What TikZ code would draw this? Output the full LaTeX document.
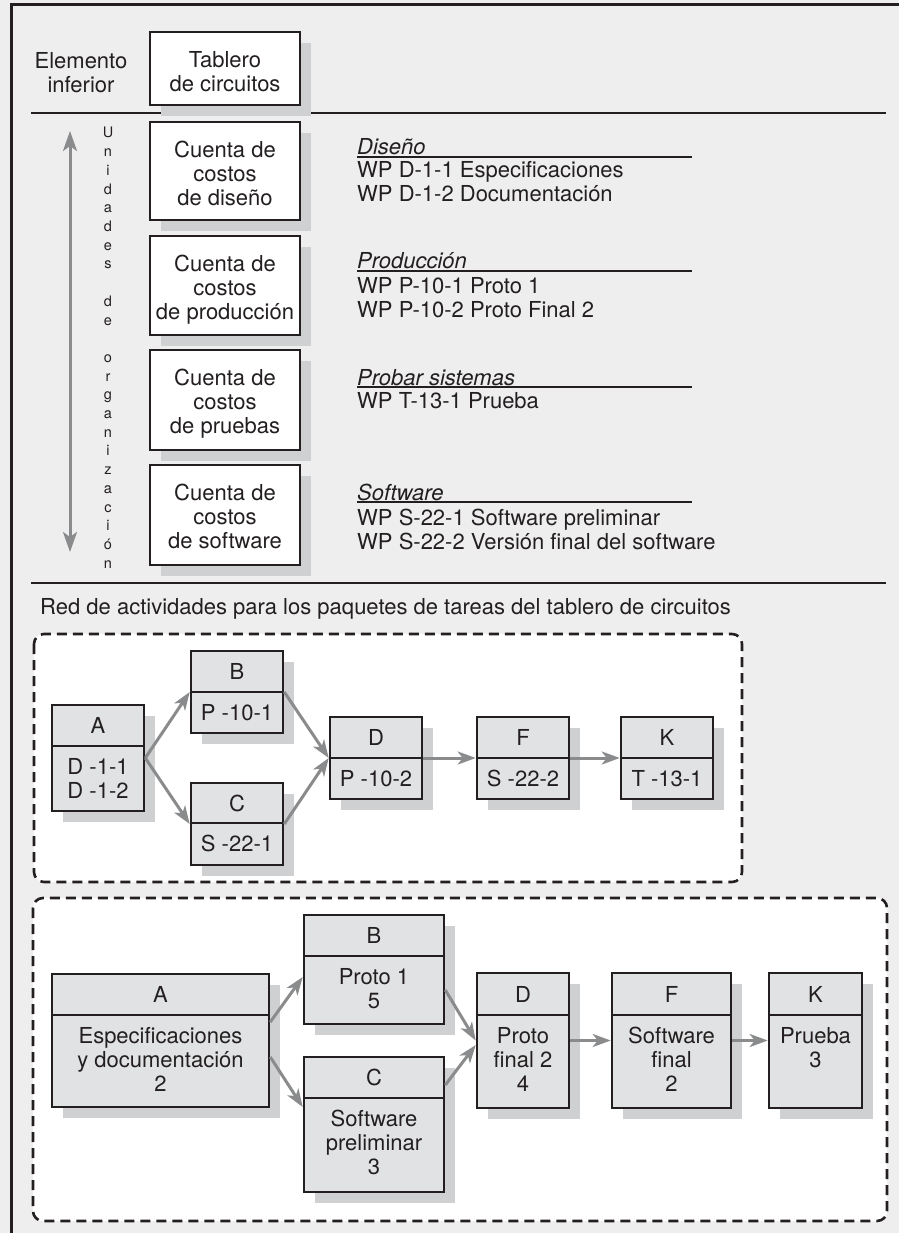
\documentclass[tikz,border=0pt]{standalone}
\usepackage{fontspec}
\setmainfont{TeX Gyre Heros}
\usetikzlibrary{arrows.meta}
\definecolor{bgc}{HTML}{EEEEEE}
\definecolor{shadowc}{HTML}{CFD0D2}
\definecolor{nodefill}{HTML}{E1E2E3}
\definecolor{arrowc}{HTML}{8A8B8C}
\definecolor{inkc}{HTML}{231F20}
\newcommand\costbox[6]{%
  \fill[shadowc] ({#2+11},{#3+11}) rectangle ({#4+11},{#5+11});
  \node[costnode, minimum width={#4-#2}, minimum height={#5-#3}] (#1) at ({(#2+#4)/2},{(#3+#5)/2}) {};
  \node[txt, anchor=north, inner sep=0pt, align=center] (#1t) at ({(#2+#4)/2},{#3+19}) {#6};
}
\newcommand\actbox[8]{%
  \fill[shadowc] ({#2+11},{#3+11}) rectangle ({#4+11},{#5+11});
  \node[actnode, minimum width={#4-#2}, minimum height={#5-#3}] (#1) at ({(#2+#4)/2},{(#3+#5)/2}) {};
  \draw[divline] ({#2},{#6}) -- ({#4},{#6});
  \node[txt] (#1h) at ({(#2+#4)/2},{(#3+#6)/2}) {#7};
  \node[txt, anchor=north, inner sep=0pt, align=center] (#1b) at ({(#2+#4)/2},{#6+12}) {#8};
}
\begin{document}
\begin{tikzpicture}[x=1pt,y=-1pt,
  txt/.style={font=\fontsize{22}{24}\selectfont, text=inkc},
  ital/.style={font=\fontsize{22}{24}\selectfont\itshape, text=inkc},
  small/.style={font=\fontsize{14.5}{16}\selectfont, text=inkc},
  frame/.style={draw=inkc, line width=3pt},
  sepline/.style={draw=inkc, line width=2.2pt},
  uline/.style={draw=inkc, line width=1.3pt},
  costnode/.style={draw=inkc, line width=2.8pt, fill=white, inner sep=0pt},
  actnode/.style={draw=inkc, line width=2.6pt, fill=nodefill, inner sep=0pt},
  divline/.style={draw=inkc, line width=2.6pt},
  conn/.style={draw=arrowc, line width=3pt, -{Stealth[length=18pt,width=13pt,inset=5pt]}},
  varrow/.style={draw=arrowc, line width=3pt, {Stealth[length=20pt,width=14pt,inset=5pt]}-{Stealth[length=20pt,width=14pt,inset=5pt]}},
  dashbox/.style={draw=inkc, line width=2.6pt, dash pattern=on 10pt off 6pt, rounded corners=10pt, fill=white}
]
\useasboundingbox (0,0) rectangle (899,1233);
\fill[bgc] (0,0) rectangle (899,1233);
% outer frame
\draw[frame] (11.5,1233) -- (11.5,4.5) -- (899,4.5);
% separators
\draw[sepline] (31,113) -- (886,113);
\draw[sepline] (31,583) -- (886,583);

% top section
\node[txt, anchor=north, inner sep=0pt, align=center] (elem) at (81,52) {Elemento\\inferior};
\costbox{tab}{150}{32}{300}{105}{Tablero\\de circuitos}
\costbox{cdis}{150}{122}{300}{220}{Cuenta de\\costos\\de diseño}
\costbox{cpro}{150}{236}{300}{335}{Cuenta de\\costos\\de producción}
\costbox{cpru}{150}{350}{300}{450}{Cuenta de\\costos\\de pruebas}
\costbox{csof}{150}{465}{300}{565}{Cuenta de\\costos\\de software}

% vertical arrow and letters
\coordinate (vtop) at (70,131);
\coordinate (vbot) at (70,552);
\draw[varrow] (vtop) -- (vbot);
\foreach \l [count=\i from 0] in {U,n,i,d,a,d,e,s,{},d,e,{},o,r,g,a,n,i,z,a,c,i,ó,n}
  \node[small, anchor=base, inner sep=0pt] (v\i) at (108,{138+\i*18.7}) {\l};

% work packages
\node[ital, anchor=base west, inner sep=0pt] (hd1) at (357,155) {Diseño};
\draw[uline] (357,157) -- (692,157);
\node[txt, anchor=base west, inner sep=0pt] (w11) at (357,178) {WP D-1-1 Especificaciones};
\node[txt, anchor=base west, inner sep=0pt] (w12) at (357,202) {WP D-1-2 Documentación};

\node[ital, anchor=base west, inner sep=0pt] (hd2) at (357,268) {Producción};
\draw[uline] (357,271) -- (692,271);
\node[txt, anchor=base west, inner sep=0pt] (w21) at (357,293) {WP P-10-1 Proto 1};
\node[txt, anchor=base west, inner sep=0pt] (w22) at (357,317) {WP P-10-2 Proto Final 2};

\node[ital, anchor=base west, inner sep=0pt] (hd3) at (357,385) {Probar sistemas};
\draw[uline] (357,387) -- (692,387);
\node[txt, anchor=base west, inner sep=0pt] (w31) at (357,408) {WP T-13-1 Prueba};

\node[ital, anchor=base west, inner sep=0pt] (hd4) at (357,500) {Software};
\draw[uline] (357,502) -- (692,502);
\node[txt, anchor=base west, inner sep=0pt] (w41) at (357,525) {WP S-22-1 Software preliminar};
\node[txt, anchor=base west, inner sep=0pt] (w42) at (357,549) {WP S-22-2 Versión final del software};

% network title
\node[txt, anchor=base west, inner sep=0pt] (title) at (40,614) {Red de actividades para los paquetes de tareas del tablero de circuitos};

% dashed boxes
\draw[dashbox] (34,634) rectangle (742,882);
\draw[dashbox] (33,898) rectangle (887,1221);

% network 1
\actbox{A1}{52}{705}{144}{811}{746}{A}{D -1-1\\D -1-2}
\actbox{B1}{191}{651}{283}{733}{692}{B}{P -10-1}
\actbox{C1}{191}{783}{283}{865}{823}{C}{S -22-1}
\actbox{D1}{330}{717}{422}{799}{758}{D}{P -10-2}
\actbox{F1}{477}{717}{569}{799}{758}{F}{S -22-2}
\actbox{K1}{621}{717}{713}{799}{758}{K}{T -13-1}
\draw[conn] (A1.east) -- (B1.west);
\draw[conn] (A1.east) -- (C1.west);
\draw[conn] (B1.east) -- (D1.west);
\draw[conn] (C1.east) -- (D1.west);
\draw[conn] (D1.east) -- (F1.west);
\draw[conn] (F1.east) -- (K1.west);

% network 2
\actbox{A2}{52}{974}{269}{1107}{1015}{A}{Especificaciones\\y documentación\\2}
\actbox{B2}{304}{915}{444}{1024}{956}{B}{Proto 1\\5}
\actbox{C2}{304}{1057}{444}{1192}{1098}{C}{Software\\preliminar\\3}
\actbox{D2}{477}{973}{569}{1108}{1015}{D}{Proto\\final 2\\4}
\actbox{F2}{612}{973}{731}{1108}{1015}{F}{Software\\final\\2}
\actbox{K2}{769}{973}{862}{1108}{1015}{K}{Prueba\\3}
\draw[conn] ([yshift=18.5pt]A2.east) -- ([yshift=-7.5pt]B2.west);
\draw[conn] ([yshift=-16.5pt]A2.east) -- ([yshift=17.5pt]C2.west);
\draw[conn] ([yshift=-20.5pt]B2.east) -- (D2.west);
\draw[conn] ([yshift=39.5pt]C2.east) -- ([yshift=-4.5pt]D2.west);
\draw[conn] (D2.east) -- (F2.west);
\draw[conn] (F2.east) -- (K2.west);
\end{tikzpicture}
\end{document}
